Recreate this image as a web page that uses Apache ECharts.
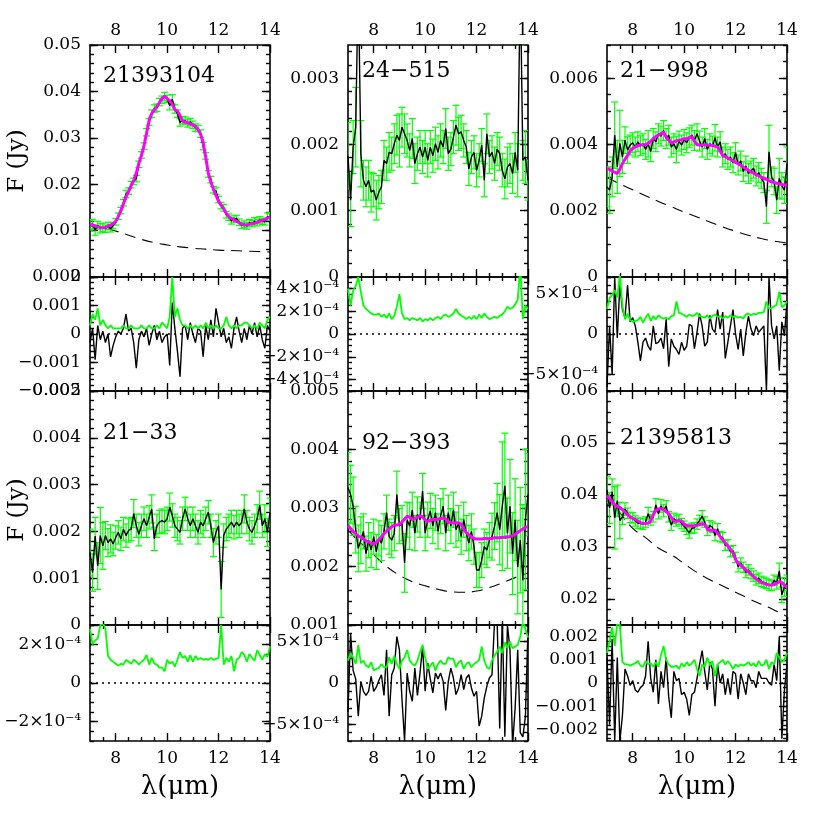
<!DOCTYPE html>
<html><head><meta charset="utf-8">
<script src="https://cdn.jsdelivr.net/npm/echarts@6/dist/echarts.min.js"></script>
<style>html,body{margin:0;padding:0;background:#fff}#c{width:830px;height:830px}</style>
</head><body><div id="c"></div>
<script>
// ---------- DATA ----------
const lambda = [
7.0,7.1,7.2,7.3,7.4,7.5,7.6,7.7,7.8,7.9,
8.0,8.1,8.2,8.3,8.4,8.5,8.6,8.7,8.8,8.9,
9.0,9.1,9.2,9.3,9.4,9.5,9.6,9.7,9.8,9.9,
10.0,10.1,10.2,10.3,10.4,10.5,10.6,10.7,10.8,10.9,
11.0,11.1,11.2,11.3,11.4,11.5,11.6,11.7,11.8,11.9,
12.0,12.1,12.2,12.3,12.4,12.5,12.6,12.7,12.8,12.9,
13.0,13.1,13.2,13.3,13.4,13.5,13.6,13.7,13.8,13.9,
14.0];
const contX = [7,7.5,8,8.5,9,9.5,10,10.5,11,11.5,12,12.5,13,13.5,14];
const xTicks = [8,10,12,14];
const xMinorTicks = [7.5,8.5,9,9.5,10.5,11,11.5,12.5,13,13.5];

// Panel 1: 21393104
const f1 = [
.0111,.0114,.0101,.0111,.0105,.0107,.0104,.0110,.0104,.0111,
.0119,.0131,.0143,.0160,.0179,.0185,.0199,.0206,.0212,.0243,
.0263,.0282,.0312,.0334,.0352,.0363,.0365,.0377,.0382,.0389,
.0384,.0369,.0383,.0362,.0352,.0333,.0338,.0337,.0331,.0334,
.0328,.0322,.0320,.0309,.0282,.0261,.0222,.0210,.0188,.0185,
.0167,.0154,.0149,.0134,.0129,.0121,.0125,.0126,.0118,.0111,
.0114,.0110,.0117,.0115,.0120,.0117,.0123,.0120,.0119,.0130,
.0130];
const e1 = [
.0010,.0010,.0011,.0009,.0010,.0009,.0008,.0008,.0007,.0007,
.0007,.0007,.0007,.0007,.0008,.0007,.0007,.0007,.0007,.0007,
.0007,.0007,.0008,.0007,.0008,.0008,.0008,.0008,.0008,.0009,
.0008,.0009,.0010,.0009,.0008,.0008,.0008,.0008,.0008,.0008,
.0008,.0008,.0007,.0008,.0008,.0007,.0007,.0007,.0007,.0007,
.0007,.0007,.0007,.0007,.0007,.0007,.0007,.0007,.0007,.0007,
.0007,.0007,.0007,.0007,.0008,.0007,.0007,.0007,.0007,.0008,
.0008];
const m1 = [
.0114,.0112,.0110,.0108,.0107,.0106,.0107,.0110,.0112,.0115,
.0120,.0130,.0143,.0158,.0172,.0184,.0197,.0209,.0224,.0245,
.0262,.0283,.0310,.0338,.0352,.0360,.0367,.0376,.0385,.0390,
.0384,.0380,.0372,.0360,.0358,.0348,.0336,.0334,.0333,.0330,
.0328,.0325,.0318,.0308,.0290,.0258,.0224,.0205,.0189,.0176,
.0163,.0155,.0147,.0137,.0130,.0126,.0123,.0120,.0117,.0114,
.0112,.0112,.0114,.0115,.0116,.0118,.0120,.0122,.0124,.0127,
.0129];
const c1 = [.0110,.0106,.0099,.0090,.0081,.0074,.0069,.0065,.0062,.0060,.0058,.0057,.0056,.0055,.0054];
const r1 = [
-.0003,.0002,-.0009,.0003,-.0002,.0001,-.0003,.0000,-.0008,-.0004,
-.0001,.0001,.0000,.0002,.0007,.0001,.0002,-.0003,-.0012,-.0002,
.0001,-.0001,.0002,-.0004,.0000,.0003,-.0002,.0001,-.0003,-.0001,
.0000,-.0011,.0011,.0002,-.0006,-.0015,.0002,.0003,-.0002,.0004,
.0000,-.0003,.0002,.0001,-.0008,.0003,-.0002,.0005,-.0001,.0009,
.0004,-.0001,.0002,-.0003,-.0001,-.0005,.0002,.0006,.0001,-.0003,
.0002,-.0002,.0003,.0000,.0004,-.0001,.0003,-.0002,-.0005,.0003,
.0001];
const s1 = [
.0003,.0007,.0005,.0009,.0003,.0005,.0003,.0002,.0003,.0002,
.0002,.0002,.0002,.0003,.0002,.0002,.0003,.0002,.0002,.0002,
.0003,.0002,.0002,.0003,.0002,.0002,.0003,.0002,.0004,.0003,
.0002,.0006,.0020,.0006,.0009,.0005,.0003,.0003,.0002,.0003,
.0002,.0003,.0002,.0003,.0002,.0004,.0002,.0003,.0002,.0003,
.0002,.0002,.0003,.0006,.0003,.0002,.0003,.0002,.0003,.0003,
.0004,.0004,.0003,.0002,.0003,.0002,.0004,.0003,.0002,.0005,
.0006];

// Panel 2: 24-515
const f2 = [
.00183,.00116,.00196,.00226,.00450,.00186,.00146,.00136,.00146,.00128,
.00131,.00116,.00128,.00136,.00176,.00171,.00188,.00186,.00201,.00214,
.00206,.00226,.00216,.00206,.00191,.00209,.00171,.00186,.00196,.00181,
.00196,.00176,.00196,.00183,.00201,.00188,.00206,.00196,.00224,.00186,
.00193,.00211,.00229,.00216,.00219,.00206,.00196,.00163,.00181,.00188,
.00161,.00176,.00199,.00146,.00216,.00181,.00188,.00171,.00193,.00186,
.00161,.00148,.00166,.00171,.00156,.00188,.00161,.00450,.00176,.00181,
.00146];
const e2 = [
.0005,.0004,.0004,.0006,.0008,.0005,.0003,.0003,.0003,.0003,
.00025,.0003,.00025,.00025,.0003,.00025,.0003,.00025,.0003,.0003,
.0004,.0003,.0003,.00025,.00025,.0003,.0003,.00025,.00025,.00025,
.00025,.00025,.00025,.00025,.00025,.00025,.00025,.00025,.0003,.00025,
.00025,.00025,.0003,.00025,.00025,.00025,.00025,.00025,.00025,.00025,
.00025,.00025,.00025,.00025,.0003,.00025,.00025,.00025,.00025,.00025,
.00025,.0003,.0003,.0003,.0003,.0003,.0004,.0010,.0003,.0004,
.0003];
const s2 = [
.00040,.00025,.00038,.00042,.00050,.00037,.00025,.00022,.00020,.00018,
.00017,.00017,.00018,.00015,.00017,.00014,.00018,.00013,.00016,.00024,
.00035,.00018,.00013,.00014,.00012,.00014,.00013,.00012,.00014,.00011,
.00013,.00012,.00014,.00012,.00014,.00015,.00013,.00016,.00017,.00015,
.00016,.00018,.00022,.00018,.00016,.00015,.00013,.00015,.00013,.00016,
.00013,.00017,.00014,.00018,.00015,.00013,.00014,.00015,.00014,.00016,
.00017,.00020,.00024,.00022,.00023,.00026,.00030,.00060,.00013,.00025,
.00022];

// Panel 3: 21-998
const f3 = [
.00272,.00262,.00302,.00428,.00332,.00403,.00362,.00413,.00383,.00398,
.00405,.00392,.00408,.00396,.00402,.00385,.00402,.00378,.00418,.00408,
.00432,.00425,.00442,.00418,.00428,.00392,.00402,.00385,.00410,.00398,
.00415,.00405,.00420,.00428,.00412,.00432,.00410,.00392,.00418,.00385,
.00402,.00395,.00420,.00392,.00408,.00362,.00372,.00355,.00362,.00345,
.00375,.00338,.00350,.00318,.00335,.00312,.00320,.00328,.00305,.00315,
.00298,.00285,.00212,.00378,.00302,.00288,.00232,.00298,.00275,.00262,
.00342];
const e3 = [
.0006,.0007,.0006,.0010,.0008,.0010,.0005,.0004,.0004,.0003,
.0003,.0003,.0003,.0003,.0003,.0003,.0004,.0003,.0003,.0003,
.0003,.0003,.0003,.0003,.0003,.0003,.0003,.0004,.0003,.0003,
.0003,.0003,.0003,.0003,.0003,.0003,.0003,.0003,.0003,.0003,
.0003,.0003,.0004,.0003,.0003,.0003,.0003,.0003,.0003,.0003,
.0003,.0003,.0003,.0003,.0003,.0003,.0003,.0003,.0003,.0003,
.0003,.0003,.0005,.0008,.0003,.0004,.0004,.0006,.0004,.0004,
.0005];
const m3 = [
.00327,.00324,.00320,.00316,.00312,.00325,.00342,.00355,.00367,.00380,
.00388,.00393,.00396,.00398,.00399,.00400,.00403,.00410,.00418,.00424,
.00428,.00433,.00437,.00422,.00412,.00405,.00408,.00411,.00413,.00414,
.00418,.00416,.00421,.00423,.00410,.00399,.00398,.00398,.00398,.00398,
.00398,.00397,.00395,.00392,.00380,.00367,.00363,.00359,.00355,.00350,
.00346,.00342,.00337,.00332,.00327,.00322,.00317,.00313,.00309,.00305,
.00301,.00298,.00295,.00291,.00287,.00285,.00283,.00281,.00279,.00278,
.00277];
const c3 = [.00300,.00281,.00263,.00245,.00228,.00212,.00196,.00181,.00166,.00151,.00138,.00126,.00116,.00108,.00103];
const r3 = [
-6.5e-4,1e-4,-5e-4,7e-4,-0.5e-4,6e-4,3e-4,2e-4,6e-4,1.5e-4,
2e-4,1e-4,-1e-4,-3.3e-4,-1e-4,-0.5e-4,-1.5e-4,-2e-4,1e-4,-1.2e-4,
-1e-4,-0.5e-4,-1.8e-4,1.8e-4,-4e-4,-0.6e-4,-1.5e-4,-1.9e-4,-2.5e-4,-1e-4,
-2e-4,-1.5e-4,1.2e-4,1e-4,-1.8e-4,0.2e-4,2.5e-4,1e-4,-1.5e-4,-1e-4,
2.3e-4,0.6e-4,0.2e-4,3e-4,0.6e-4,2.7e-4,-3e-4,-1e-4,1e-4,3e-4,
0,-1.9e-4,0.6e-4,-2.7e-4,0.2e-4,2.2e-4,0.6e-4,-0.2e-4,1e-4,0.2e-4,
0.6e-4,1e-4,-7e-4,7e-4,1e-4,-0.6e-4,1e-4,-4.5e-4,1.5e-4,-0.2e-4,
4e-4];
const s3 = [
3.1e-4,4.4e-4,4.8e-4,5.4e-4,4.5e-4,7.3e-4,3.5e-4,1.8e-4,2.5e-4,1.7e-4,
1.5e-4,1.6e-4,1.7e-4,2.1e-4,1.4e-4,2.0e-4,2.5e-4,1.6e-4,2.2e-4,1.8e-4,
2.3e-4,2.0e-4,1.9e-4,2.0e-4,1.8e-4,2.2e-4,2.3e-4,4.0e-4,2.6e-4,2.5e-4,
2.3e-4,2.1e-4,2.4e-4,2.2e-4,2.3e-4,2.6e-4,2.2e-4,2.1e-4,2.0e-4,2.3e-4,
1.9e-4,2.2e-4,2.4e-4,2.1e-4,2.2e-4,1.9e-4,2.2e-4,2.0e-4,2.3e-4,2.1e-4,
2.2e-4,2.0e-4,2.1e-4,1.9e-4,2.4e-4,2.5e-4,2.3e-4,2.5e-4,2.4e-4,2.6e-4,
2.6e-4,2.7e-4,4.0e-4,3.1e-4,3.2e-4,3.4e-4,3.6e-4,5.2e-4,3.3e-4,3.5e-4,
4.0e-4];

// Panel 4: 21-33
const f4 = [
.00155,.00112,.00190,.00126,.00191,.00169,.00191,.00176,.00184,.00173,
.00187,.00198,.00184,.00205,.00191,.00202,.00205,.00238,.00212,.00194,
.00212,.00227,.00212,.00230,.00248,.00184,.00212,.00220,.00223,.00220,
.00227,.00252,.00234,.00212,.00205,.00198,.00227,.00248,.00227,.00212,
.00227,.00212,.00198,.00220,.00212,.00227,.00241,.00212,.00176,.00198,
.00212,.00076,.00191,.00205,.00212,.00220,.00209,.00220,.00212,.00220,
.00248,.00220,.00205,.00198,.00212,.00227,.00256,.00212,.00227,.00198,
.00241];
const e4 = [
.0005,.0004,.0004,.0005,.0006,.0005,.0003,.0003,.0003,.00025,
.00025,.00025,.00025,.00025,.00025,.00025,.00025,.0003,.00025,.00025,
.00025,.00025,.00025,.00025,.0003,.00025,.00025,.00025,.00025,.00025,
.00025,.0003,.00025,.00025,.00025,.00025,.00025,.00025,.00025,.00025,
.00025,.00025,.00025,.00025,.00025,.00025,.00025,.00025,.0003,.00025,
.00025,.0006,.00025,.00025,.00025,.00025,.00025,.00025,.00025,.00025,
.0003,.00025,.00025,.00025,.00025,.0003,.0003,.00025,.0003,.0003,
.0003];
const s4 = [
2.8e-4,2.0e-4,2.2e-4,2.3e-4,3.0e-4,3.1e-4,2.8e-4,1.4e-4,1.2e-4,1.1e-4,
1.0e-4,0.9e-4,1.0e-4,0.95e-4,1.2e-4,1.1e-4,1.0e-4,1.2e-4,1.1e-4,0.95e-4,
1.1e-4,1.2e-4,1.45e-4,0.95e-4,1.3e-4,1.0e-4,0.95e-4,0.8e-4,0.8e-4,0.6e-4,
1.2e-4,1.0e-4,1.1e-4,0.85e-4,1.2e-4,1.6e-4,1.3e-4,1.4e-4,1.1e-4,1.45e-4,
1.1e-4,1.4e-4,1.2e-4,1.3e-4,1.2e-4,1.25e-4,1.2e-4,1.3e-4,1.2e-4,1.25e-4,
1.3e-4,3.0e-4,0.95e-4,1.3e-4,1.1e-4,1.4e-4,0.6e-4,1.2e-4,1.3e-4,1.6e-4,
1.45e-4,1.1e-4,1.5e-4,1.3e-4,1.15e-4,1.7e-4,1.45e-4,1.2e-4,1.5e-4,1.35e-4,
1.9e-4];

// Panel 5: 92-393
const f5 = [
.00335,.00323,.00303,.00263,.00231,.00245,.00260,.00222,.00245,.00228,
.00251,.00225,.00248,.00240,.00260,.00292,.00251,.00245,.00257,.00323,
.00269,.00274,.00206,.00280,.00269,.00297,.00257,.00289,.00280,.00329,
.00257,.00280,.00295,.00269,.00292,.00260,.00286,.00303,.00257,.00292,
.00269,.00297,.00263,.00274,.00251,.00280,.00257,.00240,.00260,.00234,
.00194,.00194,.00211,.00234,.00228,.00245,.00251,.00269,.00292,.00263,
.00303,.00338,.00257,.00303,.00222,.00280,.00199,.00245,.00176,.00280,
.00323];
const e5 = [
.0006,.0005,.0005,.0004,.0004,.0004,.0003,.0003,.0003,.0003,
.0003,.0003,.0003,.0003,.0003,.0003,.0003,.0003,.0003,.0004,
.0003,.0003,.0005,.0003,.0004,.0003,.0003,.0003,.0003,.0003,
.0003,.0003,.0003,.0003,.0003,.0003,.0003,.0003,.0003,.0003,
.0003,.0003,.0003,.0003,.0003,.0003,.0003,.0003,.0003,.0003,
.0003,.0003,.0003,.0003,.0003,.0003,.0004,.0004,.0005,.0006,
.0011,.0009,.0006,.0008,.0007,.0007,.0008,.0009,.0013,.0012,
.0007];
const m5 = [
.00270,.00265,.00260,.00256,.00252,.00250,.00247,.00244,.00242,.00240,
.00239,.00241,.00246,.00251,.00256,.00260,.00264,.00268,.00271,.00271,
.00272,.00276,.00281,.00286,.00284,.00280,.00282,.00284,.00287,.00284,
.00280,.00277,.00279,.00281,.00280,.00281,.00282,.00283,.00281,.00276,
.00275,.00275,.00275,.00275,.00272,.00264,.00258,.00254,.00251,.00248,
.00247,.00247,.00247,.00248,.00248,.00248,.00248,.00249,.00249,.00249,
.00250,.00250,.00251,.00251,.00253,.00255,.00258,.00261,.00264,.00267,
.00268];
const c5 = [.00262,.00240,.00220,.00200,.00185,.00174,.00167,.00161,.00157,.00156,.00158,.00164,.00172,.00181,.00189];
const r5 = [
-3.5e-4,6e-4,1.5e-4,0.5e-4,-4e-4,0.2e-4,-1.0e-4,-1.5e-4,-1.0e-4,0.8e-4,
-1.0e-4,-0.5e-4,0.3e-4,1.0e-4,-1.5e-4,4e-4,-4e-4,1.0e-4,1.8e-4,5.6e-4,
4e-4,-2.0e-4,-7e-4,1.2e-4,-1.0e-4,-2.2e-4,1.8e-4,-1.5e-4,1.2e-4,4.4e-4,
-1.0e-4,2.4e-4,0.5e-4,-1.2e-4,1.2e-4,0.5e-4,1.2e-4,0.2e-4,-3.3e-4,0.2e-4,
1.8e-4,0.6e-4,-1.4e-4,-0.6e-4,1.0e-4,-0.8e-4,0.6e-4,1.0e-4,-0.6e-4,-1.6e-4,
-1.0e-4,-5.2e-4,-4e-4,-1.8e-4,-0.4e-4,0.6e-4,1.0e-4,7.5e-4,7.5e-4,-5.5e-4,
8e-4,-6.5e-4,7e-4,4e-4,-7.5e-4,-3e-4,4e-4,-6e-4,-6.5e-4,-4e-4,
6.5e-4];
const s5 = [
2.7e-4,3.6e-4,3.1e-4,2.3e-4,4.6e-4,2.4e-4,2.7e-4,2.1e-4,1.9e-4,2.5e-4,
1.5e-4,1.7e-4,1.8e-4,2.3e-4,1.9e-4,1.9e-4,3.1e-4,2.3e-4,3.3e-4,2.3e-4,
1.7e-4,2.7e-4,3.1e-4,4.0e-4,2.7e-4,2.3e-4,2.1e-4,2.7e-4,3.7e-4,4.6e-4,
3.1e-4,1.7e-4,2.1e-4,2.5e-4,1.5e-4,2.3e-4,2.7e-4,2.3e-4,2.3e-4,3.1e-4,
2.9e-4,2.9e-4,1.9e-4,2.5e-4,2.7e-4,1.7e-4,2.3e-4,2.5e-4,1.9e-4,2.3e-4,
2.5e-4,2.8e-4,4.4e-4,2.7e-4,1.9e-4,1.7e-4,2.7e-4,3.3e-4,3.8e-4,4.4e-4,
3.6e-4,4.9e-4,4.2e-4,5.0e-4,4.2e-4,4.4e-4,4.6e-4,5.6e-4,7.5e-4,6.5e-4,
5.5e-4];

// Panel 6: 21395813
const f6 = [
.0410,.0375,.0406,.0356,.0389,.0351,.0358,.0373,.0365,.0357,
.0356,.0350,.0346,.0345,.0344,.0348,.0364,.0352,.0358,.0381,
.0364,.0379,.0370,.0379,.0358,.0342,.0355,.0350,.0353,.0345,
.0340,.0334,.0327,.0336,.0337,.0344,.0351,.0359,.0348,.0332,
.0341,.0338,.0322,.0335,.0320,.0318,.0303,.0304,.0291,.0293,
.0280,.0262,.0269,.0261,.0251,.0256,.0249,.0244,.0237,.0240,
.0234,.0232,.0230,.0227,.0226,.0236,.0231,.0254,.0208,.0223,
.0231];
const e6 = [
.0025,.0030,.0025,.0060,.0030,.0035,.0015,.0012,.0010,.0010,
.0010,.0010,.0010,.0010,.0010,.0010,.0012,.0010,.0010,.0012,
.0010,.0012,.0012,.0010,.0010,.0010,.0010,.0010,.0010,.0010,
.0010,.0010,.0010,.0010,.0010,.0010,.0010,.0011,.0010,.0010,
.0010,.0010,.0010,.0010,.0010,.0010,.0010,.0010,.0010,.0010,
.0010,.0010,.0010,.0010,.0010,.0010,.0010,.0010,.0010,.0010,
.0010,.0010,.0010,.0010,.0010,.0010,.0012,.0015,.0015,.0018,
.0015];
const m6 = [
.0399,.0393,.0387,.0381,.0378,.0376,.0372,.0367,.0362,.0358,
.0355,.0353,.0350,.0347,.0345,.0345,.0346,.0350,.0362,.0371,
.0373,.0374,.0372,.0368,.0364,.0357,.0350,.0349,.0351,.0350,
.0344,.0341,.0341,.0341,.0341,.0342,.0343,.0345,.0343,.0335,
.0332,.0332,.0332,.0327,.0320,.0314,.0308,.0302,.0296,.0288,
.0276,.0269,.0265,.0261,.0256,.0252,.0248,.0243,.0239,.0235,
.0232,.0230,.0228,.0227,.0227,.0228,.0230,.0234,.0232,.0226,
.0223];
const c6 = [.0397,.0366,.0336,.0318,.0298,.0285,.0268,.0251,.0237,.0225,.0213,.0201,.0190,.0179,.0166];
const r6 = [
1.1e-3,-1.8e-3,1.9e-3,-2.5e-3,1.1e-3,-2.5e-3,-1.4e-3,0.6e-3,0.3e-3,-0.1e-3,
0.1e-3,-0.3e-3,-0.4e-3,-0.2e-3,-0.1e-3,0.3e-3,1.8e-3,0.2e-3,-0.4e-3,1.0e-3,
-0.9e-3,0.5e-3,-0.2e-3,1.1e-3,-0.6e-3,-1.5e-3,0.5e-3,0.1e-3,0.2e-3,-0.5e-3,
-0.4e-3,-0.7e-3,-1.4e-3,-0.5e-3,-0.4e-3,0.2e-3,0.8e-3,1.4e-3,0.5e-3,-0.3e-3,
0.9e-3,0.6e-3,-1.0e-3,0.8e-3,0,0.4e-3,-0.5e-3,0.2e-3,-0.5e-3,0.5e-3,
0.4e-3,-0.7e-3,0.4e-3,0,-0.5e-3,0.4e-3,0.1e-3,0.1e-3,-0.2e-3,0.5e-3,
0.2e-3,0.2e-3,0.2e-3,0,-0.1e-3,0.8e-3,0.1e-3,2.0e-3,-2.4e-3,-0.3e-3,
0.8e-3];
const s6 = [
1.3e-3,1.8e-3,2.4e-3,1.6e-3,2.6e-3,2.5e-3,0.9e-3,0.8e-3,0.8e-3,0.75e-3,
0.8e-3,0.85e-3,0.95e-3,0.75e-3,0.7e-3,0.95e-3,0.8e-3,0.85e-3,0.7e-3,0.9e-3,
0.7e-3,1.2e-3,1.6e-3,1.0e-3,0.8e-3,0.7e-3,0.7e-3,0.75e-3,0.6e-3,0.85e-3,
0.7e-3,0.9e-3,0.75e-3,0.85e-3,1.0e-3,0.6e-3,0.3e-3,0.8e-3,0.7e-3,1.1e-3,
0.75e-3,0.95e-3,0.3e-3,0.8e-3,0.9e-3,1.0e-3,0.8e-3,0.95e-3,0.8e-3,0.6e-3,
0.8e-3,0.7e-3,0.8e-3,0.75e-3,0.8e-3,0.9e-3,0.75e-3,0.85e-3,0.7e-3,0.95e-3,
0.75e-3,0.8e-3,1.0e-3,0.6e-3,0.9e-3,0.8e-3,1.3e-3,1.1e-3,0.9e-3,1.0e-3,
1.3e-3];

// tick labels
const p1MainTicks = [0,0.01,0.02,0.03,0.04,0.05];
const p1ResTicks = [-0.002,-0.001,0,0.001,0.002];
const p2MainTicks = [0,0.001,0.002,0.003];
const p2ResTicks = [-4e-4,-2e-4,0,2e-4,4e-4];
const p3MainTicks = [0,0.002,0.004,0.006];
const p3ResTicks = [-5e-4,0,5e-4];
const p4MainTicks = [0,0.001,0.002,0.003,0.004,0.005];
const p4ResTicks = [-2e-4,0,2e-4];
const p5MainTicks = [0.001,0.002,0.003,0.004,0.005];
const p5ResTicks = [-5e-4,0,5e-4];
const p6MainTicks = [0.02,0.03,0.04,0.05,0.06];
const p6ResTicks = [-0.002,-0.001,0,0.001,0.002];

const names = ['21393104','24\u2212515','21\u2212998','21\u221233','92\u2212393','21395813'];

// ---------- LAYOUT ----------
const FONT = 'DejaVu Serif';
const colX = [90, 348, 607], colW = 180;
const mainTop = [45, 391], mainH = [232, 234];
const resTop = [277, 625], resH = [114, 116];

const panels = [
 {col:0,row:0,flux:f1,err:e1,model:m1,cont:c1,resid:r1,sig:s1,main:[0,0.05],mT:p1MainTicks,mS:0.002,res:[-0.002,0.002],rT:p1ResTicks,rS:0.0002,sci:false, lab:[103,76]},
 {col:1,row:0,flux:f2,err:e2,model:null,cont:null,resid:null,sig:s2,main:[0,0.0035],mT:p2MainTicks,mS:0.0002,res:[-0.0005,0.0005],rT:p2ResTicks,rS:0.00005,sci:true, lab:[362,71]},
 {col:2,row:0,flux:f3,err:e3,model:m3,cont:c3,resid:r3,sig:s3,main:[0,0.007],mT:p3MainTicks,mS:0.0005,res:[-0.0007,0.0007],rT:p3ResTicks,rS:0.0001,sci:true, lab:[620,71]},
 {col:0,row:1,flux:f4,err:e4,model:null,cont:null,resid:null,sig:s4,main:[0,0.005],mT:p4MainTicks,mS:0.0002,res:[-0.0003,0.0003],rT:p4ResTicks,rS:0.00005,sci:true, lab:[103,433]},
 {col:1,row:1,flux:f5,err:e5,model:m5,cont:c5,resid:r5,sig:s5,main:[0.001,0.005],mT:p5MainTicks,mS:0.0002,res:[-0.0007,0.0007],rT:p5ResTicks,rS:0.0001,sci:true, lab:[362,443]},
 {col:2,row:1,flux:f6,err:e6,model:m6,cont:c6,resid:r6,sig:s6,main:[0.015,0.06],mT:p6MainTicks,mS:0.002,res:[-0.0025,0.0025],rT:p6ResTicks,rS:0.0002,sci:false, lab:[620,438]}
];

function minorList(min, max, step) {
  const out = [];
  const k0 = Math.ceil(min / step - 1e-6), k1 = Math.floor(max / step + 1e-6);
  for (let k = k0; k <= k1; k++) out.push(+(k * step).toPrecision(8));
  return out;
}
function fmtDec(v) {
  if (Math.abs(v) < 1e-12) return '0';
  return String(+v.toPrecision(6)).replace('-', '\u2212');
}
function fmtSci(v) {
  if (Math.abs(v) < 1e-12) return '0';
  return (v < 0 ? '\u2212' : '') + Math.round(Math.abs(v) * 1e4) + '\u00d710\u207b\u2074';
}

const grids = [], xAxes = [], yAxes = [], series = [];
const tickStyle = {color: '#000', width: 1.4};
const labStyle = {fontFamily: FONT, fontSize: 17, color: '#000'};
const noLine = {show: false, onZero: false};

function addBox(left, top, h, yr, yTicks, yStep, fmt, topLabels, bottomLabels) {
  const gD = grids.length;
  grids.push({left: left, top: top, width: colW, height: h, show: false});
  const gF = grids.length;
  grids.push({left: left, top: top, width: colW, height: h, show: true, borderColor: '#000', borderWidth: 1.6, backgroundColor: 'transparent'});
  const base = {type: 'value', axisLine: noLine, splitLine: {show: false}, min: 7, max: 14};
  const xi = xAxes.length;
  xAxes.push(Object.assign({}, base, {gridIndex: gD, position: 'bottom', axisTick: {show: true, inside: true, length: 4, customValues: xMinorTicks, lineStyle: tickStyle}, axisLabel: {show: false}}));
  xAxes.push(Object.assign({}, base, {gridIndex: gD, position: 'top', axisTick: {show: true, inside: true, length: 4, customValues: xMinorTicks, lineStyle: tickStyle}, axisLabel: {show: false}}));
  xAxes.push(Object.assign({}, base, {gridIndex: gF, position: 'bottom', axisTick: {show: true, inside: true, length: 8, customValues: xTicks, lineStyle: tickStyle}, axisLabel: Object.assign({show: bottomLabels, customValues: xTicks, margin: 9}, labStyle)}));
  xAxes.push(Object.assign({}, base, {gridIndex: gF, position: 'top', axisTick: {show: true, inside: true, length: 8, customValues: xTicks, lineStyle: tickStyle}, axisLabel: Object.assign({show: topLabels, customValues: xTicks, margin: 6}, labStyle)}));
  const ybase = {type: 'value', axisLine: noLine, splitLine: {show: false}, min: yr[0], max: yr[1]};
  const minors = minorList(yr[0], yr[1], yStep);
  const yi = yAxes.length;
  yAxes.push(Object.assign({}, ybase, {gridIndex: gD, position: 'left', axisTick: {show: true, inside: true, length: 4, customValues: minors, lineStyle: tickStyle}, axisLabel: {show: false}}));
  yAxes.push(Object.assign({}, ybase, {gridIndex: gD, position: 'right', axisTick: {show: true, inside: true, length: 4, customValues: minors, lineStyle: tickStyle}, axisLabel: {show: false}}));
  yAxes.push(Object.assign({}, ybase, {gridIndex: gF, position: 'left', axisTick: {show: true, inside: true, length: 8, customValues: yTicks, lineStyle: tickStyle}, axisLabel: Object.assign({show: true, customValues: yTicks, margin: 9, formatter: fmt}, labStyle)}));
  yAxes.push(Object.assign({}, ybase, {gridIndex: gF, position: 'right', axisTick: {show: true, inside: true, length: 8, customValues: yTicks, lineStyle: tickStyle}, axisLabel: {show: false}}));
  return {xi: xi, yi: yi};
}

function errRender(params, api) {
  const x = api.value(0), lo = api.value(1), hi = api.value(2);
  const p1 = api.coord([x, lo]), p2 = api.coord([x, hi]);
  const cw = 3.5;
  const st = {stroke: '#00ff00', lineWidth: 1.2, fill: null};
  return {type: 'group', children: [
    {type: 'line', shape: {x1: p1[0], y1: p1[1], x2: p2[0], y2: p2[1]}, style: st},
    {type: 'line', shape: {x1: p1[0] - cw, y1: p1[1], x2: p1[0] + cw, y2: p1[1]}, style: st},
    {type: 'line', shape: {x1: p2[0] - cw, y1: p2[1], x2: p2[0] + cw, y2: p2[1]}, style: st}
  ]};
}

function pairs(xs, ys) { return xs.map(function (x, i) { return [x, ys[i]]; }); }

panels.forEach(function (p) {
  const left = colX[p.col];
  const topRow = p.row === 0;
  const a = addBox(left, mainTop[p.row], mainH[p.row], p.main, p.mT, p.mS, fmtDec, topRow, false);
  if (p.cont) series.push({type: 'line', xAxisIndex: a.xi, yAxisIndex: a.yi, data: pairs(contX, p.cont), smooth: true, symbol: 'none', lineStyle: {color: '#000', width: 1.1, type: [11, 7]}, z: 2});
  series.push({type: 'custom', xAxisIndex: a.xi, yAxisIndex: a.yi, clip: true, encode: {x: 0, y: [1, 2]},
    data: lambda.map(function (x, i) { return [x, p.flux[i] - p.err[i], p.flux[i] + p.err[i]]; }), renderItem: errRender, z: 3});
  series.push({type: 'line', xAxisIndex: a.xi, yAxisIndex: a.yi, data: pairs(lambda, p.flux), symbol: 'none', lineStyle: {color: '#000', width: 1.4}, z: 4});
  if (p.model) series.push({type: 'line', xAxisIndex: a.xi, yAxisIndex: a.yi, data: pairs(lambda, p.model), symbol: 'none', lineStyle: {color: '#ff00ff', width: 3}, z: 5});

  const b = addBox(left, resTop[p.row], resH[p.row], p.res, p.rT, p.rS, p.sci ? fmtSci : fmtDec, false, !topRow);
  series.push({type: 'line', xAxisIndex: b.xi, yAxisIndex: b.yi, data: [[7, 0], [14, 0]], symbol: 'none', lineStyle: {color: '#000', width: 1.3, type: [2, 4]}, z: 2});
  if (p.resid) series.push({type: 'line', xAxisIndex: b.xi, yAxisIndex: b.yi, data: pairs(lambda, p.resid), symbol: 'none', lineStyle: {color: '#000', width: 1.4}, z: 3});
  series.push({type: 'line', xAxisIndex: b.xi, yAxisIndex: b.yi, data: pairs(lambda, p.sig), symbol: 'none', lineStyle: {color: '#00ff00', width: 1.8}, z: 4});
});

const graphic = [];
panels.forEach(function (p, i) {
  graphic.push({type: 'text', x: p.lab[0], y: p.lab[1], z: 100, style: {text: names[i], fontFamily: FONT, fontSize: 22, fill: '#000', align: 'left', verticalAlign: 'middle'}});
});
[161, 510].forEach(function (yc) {
  graphic.push({type: 'text', x: 17, y: yc, rotation: Math.PI / 2, z: 100, style: {text: 'F (Jy)', fontFamily: FONT, fontSize: 23, fill: '#000', align: 'center', verticalAlign: 'middle'}});
});
[180, 438, 697].forEach(function (xc) {
  graphic.push({type: 'text', x: xc, y: 787, z: 100, style: {text: '\u03bb(\u03bcm)', fontFamily: FONT, fontSize: 26, fill: '#000', align: 'center', verticalAlign: 'middle'}});
});

const chart = echarts.init(document.getElementById('c'), null, {renderer: 'canvas'});
chart.setOption({
  animation: false,
  backgroundColor: '#fff',
  grid: grids, xAxis: xAxes, yAxis: yAxes, series: series, graphic: graphic
});
</script></body></html>
